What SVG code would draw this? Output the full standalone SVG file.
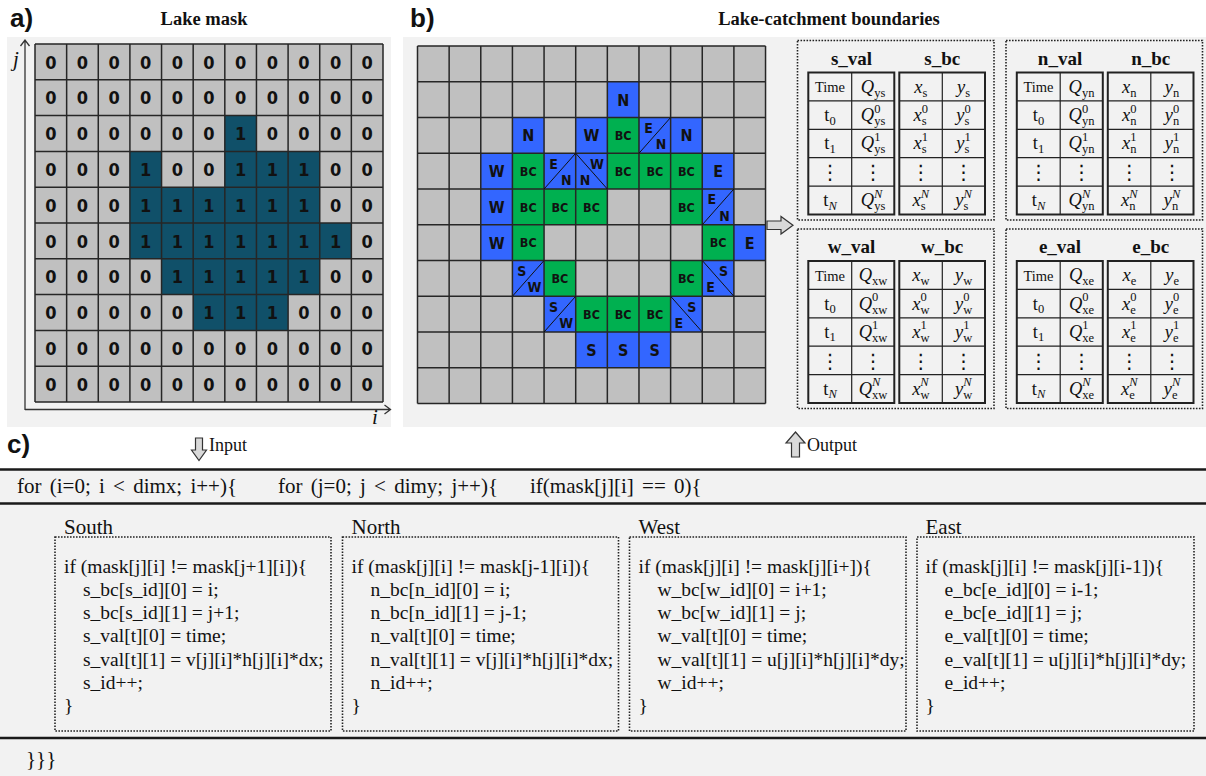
<svg xmlns="http://www.w3.org/2000/svg" width="1206" height="776" viewBox="0 0 1206 776">
<style>
.bg{fill:#f2f2f2}
.gl{fill:none;stroke:#262626;stroke-width:1.5}
.ax{fill:none;stroke:#333;stroke-width:1.3}
.d{font-family:"DejaVu Sans Condensed","DejaVu Sans",sans-serif;font-weight:bold;font-size:18px;text-anchor:middle;fill:#111}
.lb{font-family:"DejaVu Sans Condensed","DejaVu Sans",sans-serif;font-weight:bold;font-size:16px;text-anchor:middle;fill:#111}
.bc{font-family:"DejaVu Sans Condensed","DejaVu Sans",sans-serif;font-weight:bold;font-size:12.5px;text-anchor:middle;fill:#111}
.sl{font-family:"DejaVu Sans Condensed","DejaVu Sans",sans-serif;font-weight:bold;font-size:14px;text-anchor:middle;fill:#111}
.pl{font-family:"Liberation Sans",Arial,sans-serif;font-weight:bold;font-size:26px;fill:#111}
.ttl{font-family:"Liberation Serif","Times New Roman",serif;font-weight:bold;font-size:18.5px;text-anchor:middle;fill:#111}
.hd{font-family:"Liberation Serif","Times New Roman",serif;font-weight:bold;font-size:19px;text-anchor:middle;fill:#111}
.tb{fill:none;stroke:#222;stroke-width:2}
.tl{fill:none;stroke:#222;stroke-width:1.2}
.dot{fill:none;stroke:#222;stroke-width:1.6;stroke-dasharray:1.6 1.4}
.m{font-family:"Liberation Serif","Times New Roman",serif;font-size:18.5px;text-anchor:middle;fill:#111}
.tm{font-family:"Liberation Serif","Times New Roman",serif;font-size:14.5px;text-anchor:middle;fill:#111}
.it{font-style:italic}
.sb{font-size:12.5px;font-style:normal}
.si{font-size:12.5px;font-style:italic}
.vd{font-family:"DejaVu Sans",sans-serif;font-size:20px;text-anchor:middle;fill:#111}
.code{font-family:"Liberation Serif","Times New Roman",serif;font-size:19.5px;fill:#111}
.fl{font-family:"Liberation Serif","Times New Roman",serif;font-size:21px;word-spacing:3px;fill:#111}
.lab{font-family:"Liberation Serif","Times New Roman",serif;font-size:21px;fill:#111}
.ar{fill:#d9d9d9;stroke:#333;stroke-width:1.2}
.ij{font-family:"Liberation Serif","Times New Roman",serif;font-style:italic;font-size:21px;fill:#111}
.gray{fill:#c0c0c0}
.lake{fill:#105069}
.blue{fill:#3366ff}
.green{fill:#00b050}
.dg{fill:none;stroke:#111;stroke-width:1}
</style>
<rect x="0" y="0" width="1206" height="776" fill="#ffffff"/>

<!-- Panel a -->
<g id="panel-a">
<rect class="bg" x="7" y="37" width="384" height="390"/>
<text class="pl" x="10" y="27">a)</text>
<text class="ttl" x="204" y="25">Lake mask</text>
<rect class="gray" x="35" y="44" width="348" height="358"/>
<g class="lake">
<rect x="224.82" y="115.6" width="31.64" height="35.8"/>
<rect x="129.91" y="151.4" width="31.64" height="35.8"/>
<rect x="224.82" y="151.4" width="94.91" height="35.8"/>
<rect x="129.91" y="187.2" width="189.82" height="35.8"/>
<rect x="129.91" y="223" width="221.45" height="35.8"/>
<rect x="161.55" y="258.8" width="158.18" height="35.8"/>
<rect x="193.18" y="294.6" width="94.91" height="35.8"/>
</g>
<path class="gl" d="M35 44V402M66.64 44V402M98.27 44V402M129.91 44V402M161.55 44V402M193.18 44V402M224.82 44V402M256.45 44V402M288.09 44V402M319.73 44V402M351.36 44V402M383 44V402M35 44H383M35 79.8H383M35 115.6H383M35 151.4H383M35 187.2H383M35 223H383M35 258.8H383M35 294.6H383M35 330.4H383M35 366.2H383M35 402H383"/>
<text class="d" x="50.82 82.45 114.09 145.73 177.36 209 240.64 272.27 303.91 335.55 367.18" y="68.5">00000000000</text>
<text class="d" x="50.82 82.45 114.09 145.73 177.36 209 240.64 272.27 303.91 335.55 367.18" y="104.3">00000000000</text>
<text class="d" x="50.82 82.45 114.09 145.73 177.36 209 240.64 272.27 303.91 335.55 367.18" y="140.1">00000010000</text>
<text class="d" x="50.82 82.45 114.09 145.73 177.36 209 240.64 272.27 303.91 335.55 367.18" y="175.9">00010011100</text>
<text class="d" x="50.82 82.45 114.09 145.73 177.36 209 240.64 272.27 303.91 335.55 367.18" y="211.7">00011111100</text>
<text class="d" x="50.82 82.45 114.09 145.73 177.36 209 240.64 272.27 303.91 335.55 367.18" y="247.5">00011111110</text>
<text class="d" x="50.82 82.45 114.09 145.73 177.36 209 240.64 272.27 303.91 335.55 367.18" y="283.3">00001111100</text>
<text class="d" x="50.82 82.45 114.09 145.73 177.36 209 240.64 272.27 303.91 335.55 367.18" y="319.1">00000111000</text>
<text class="d" x="50.82 82.45 114.09 145.73 177.36 209 240.64 272.27 303.91 335.55 367.18" y="354.9">00000000000</text>
<text class="d" x="50.82 82.45 114.09 145.73 177.36 209 240.64 272.27 303.91 335.55 367.18" y="390.7">00000000000</text>
<path class="ax" d="M25 410V40M20.5 46L25 40L29.5 46M25 409.5H390M384.5 405L390.5 409.5L384.5 414"/>
<text class="ij" x="13" y="66">j</text>
<text class="ij" x="372" y="424">i</text>
</g>

<!-- Panel b -->
<g id="panel-b">
<rect class="bg" x="403" y="37" width="803" height="390"/>
<text class="pl" x="410" y="27">b)</text>
<text class="ttl" x="829" y="25">Lake-catchment boundaries</text>
<rect class="gray" x="417.5" y="46" width="348" height="357.5"/>
<g class="blue">
<rect x="607.34" y="81.75" width="31.64" height="35.75"/>
<rect x="512.42" y="117.5" width="31.64" height="35.75"/>
<rect x="575.7" y="117.5" width="31.64" height="35.75"/>
<rect x="638.98" y="117.5" width="31.64" height="35.75"/>
<rect x="670.62" y="117.5" width="31.64" height="35.75"/>
<rect x="480.78" y="153.25" width="31.64" height="35.75"/>
<rect x="544.06" y="153.25" width="63.28" height="35.75"/>
<rect x="702.26" y="153.25" width="31.64" height="35.75"/>
<rect x="480.78" y="189" width="31.64" height="35.75"/>
<rect x="702.26" y="189" width="31.64" height="35.75"/>
<rect x="480.78" y="224.75" width="31.64" height="35.75"/>
<rect x="733.9" y="224.75" width="31.64" height="35.75"/>
<rect x="512.42" y="260.5" width="31.64" height="35.75"/>
<rect x="702.26" y="260.5" width="31.64" height="35.75"/>
<rect x="544.06" y="296.25" width="31.64" height="35.75"/>
<rect x="670.62" y="296.25" width="31.64" height="35.75"/>
<rect x="575.7" y="332" width="94.92" height="35.75"/>
</g>
<g class="green">
<rect x="607.34" y="117.5" width="31.64" height="35.75"/>
<rect x="512.42" y="153.25" width="31.64" height="35.75"/>
<rect x="607.34" y="153.25" width="94.92" height="35.75"/>
<rect x="512.42" y="189" width="94.92" height="35.75"/>
<rect x="670.62" y="189" width="31.64" height="35.75"/>
<rect x="512.42" y="224.75" width="31.64" height="35.75"/>
<rect x="702.26" y="224.75" width="31.64" height="35.75"/>
<rect x="544.06" y="260.5" width="31.64" height="35.75"/>
<rect x="670.62" y="260.5" width="31.64" height="35.75"/>
<rect x="575.7" y="296.25" width="94.92" height="35.75"/>
</g>
<path class="gl" d="M417.5 46V403.5M449.14 46V403.5M480.78 46V403.5M512.42 46V403.5M544.06 46V403.5M575.7 46V403.5M607.34 46V403.5M638.98 46V403.5M670.62 46V403.5M702.26 46V403.5M733.9 46V403.5M765.54 46V403.5M417.5 46H765.54M417.5 81.75H765.54M417.5 117.5H765.54M417.5 153.25H765.54M417.5 189H765.54M417.5 224.75H765.54M417.5 260.5H765.54M417.5 296.25H765.54M417.5 332H765.54M417.5 367.75H765.54M417.5 403.5H765.54"/>
<path class="dg" d="M638.98 153.25L670.62 117.5M544.06 189L575.7 153.25M575.7 153.25L607.34 189M702.26 224.75L733.9 189M512.42 296.25L544.06 260.5M702.26 260.5L733.9 296.25M544.06 332L575.7 296.25M670.62 296.25L702.26 332"/>
<text class="lb" x="623.16" y="105.5">N</text>
<text class="lb" x="528.24" y="141.3">N</text>
<text class="lb" x="591.52" y="141.3">W</text>
<text class="lb" x="686.44" y="141.3">N</text>
<text class="lb" x="496.6" y="177">W</text>
<text class="lb" x="718.08" y="177">E</text>
<text class="lb" x="496.6" y="212.8">W</text>
<text class="lb" x="496.6" y="248.5">W</text>
<text class="lb" x="749.72" y="248.5">E</text>
<text class="lb" x="591.52" y="355.8">S</text>
<text class="lb" x="623.16" y="355.8">S</text>
<text class="lb" x="654.8" y="355.8">S</text>
<text class="bc" x="623.16" y="140">BC</text>
<text class="bc" x="528.24" y="175.7">BC</text>
<text class="bc" x="623.16" y="175.7">BC</text>
<text class="bc" x="654.8" y="175.7">BC</text>
<text class="bc" x="686.44" y="175.7">BC</text>
<text class="bc" x="528.24" y="211.5">BC</text>
<text class="bc" x="559.88" y="211.5">BC</text>
<text class="bc" x="591.52" y="211.5">BC</text>
<text class="bc" x="686.44" y="211.5">BC</text>
<text class="bc" x="528.24" y="247.2">BC</text>
<text class="bc" x="718.08" y="247.2">BC</text>
<text class="bc" x="559.88" y="283">BC</text>
<text class="bc" x="686.44" y="283">BC</text>
<text class="bc" x="591.52" y="318.7">BC</text>
<text class="bc" x="623.16" y="318.7">BC</text>
<text class="bc" x="654.8" y="318.7">BC</text>
<text class="sl" x="648.5" y="132.8">E</text>
<text class="sl" x="661.1" y="149.4">N</text>
<text class="sl" x="553.6" y="168.6">E</text>
<text class="sl" x="566.2" y="185.2">N</text>
<text class="sl" x="596.9" y="168.6">W</text>
<text class="sl" x="584.9" y="184.5">N</text>
<text class="sl" x="711.8" y="204.3">E</text>
<text class="sl" x="724.4" y="220.9">N</text>
<text class="sl" x="521.9" y="275.8">S</text>
<text class="sl" x="534.5" y="292.4">W</text>
<text class="sl" x="723.5" y="275.8">S</text>
<text class="sl" x="710.5" y="291.7">E</text>
<text class="sl" x="553.6" y="311.6">S</text>
<text class="sl" x="566.2" y="328.2">W</text>
<text class="sl" x="691.8" y="311.6">S</text>
<text class="sl" x="678.8" y="327.5">E</text>
</g>

<!-- Tables -->
<g id="table-s">
<rect class="dot" x="797.5" y="40.5" width="196.5" height="179.5"/>
<text class="hd" x="851.5" y="64.5">s_val</text>
<text class="hd" x="942.2" y="64.5">s_bc</text>
<rect class="tb" x="808.3" y="72.5" width="86" height="142"/>
<rect class="tb" x="899.3" y="72.5" width="85.7" height="142"/>
<path class="tl" d="M851.7 72.5V214.5M942.3 72.5V214.5M808.3 100.9H894.3M808.3 129.3H894.3M808.3 157.7H894.3M808.3 186.1H894.3M899.3 100.9H985M899.3 129.3H985M899.3 157.7H985M899.3 186.1H985"/>
<text class="tm" x="830" y="92">Time</text>
<text class="m" x="873" y="92.5"><tspan class="it">Q</tspan><tspan class="sb" dy="4">ys</tspan></text>
<text class="m" x="920.8" y="92.5"><tspan class="it">x</tspan><tspan class="sb" dy="4">s</tspan></text>
<text class="m" x="963.6" y="92.5"><tspan class="it">y</tspan><tspan class="sb" dy="4">s</tspan></text>
<text class="m" x="830" y="121">t<tspan class="sb" dy="3.5">0</tspan></text>
<text class="m" x="873" y="121"><tspan class="it">Q</tspan><tspan class="sb" dy="-8.5">0</tspan><tspan class="sb" dx="-6.25" dy="12.5">ys</tspan></text>
<text class="m" x="920.8" y="121"><tspan class="it">x</tspan><tspan class="sb" dy="-8.5">0</tspan><tspan class="sb" dx="-6.25" dy="12.5">s</tspan></text>
<text class="m" x="963.6" y="121"><tspan class="it">y</tspan><tspan class="sb" dy="-8.5">0</tspan><tspan class="sb" dx="-6.25" dy="12.5">s</tspan></text>
<text class="m" x="830" y="149.4">t<tspan class="sb" dy="3.5">1</tspan></text>
<text class="m" x="873" y="149.4"><tspan class="it">Q</tspan><tspan class="sb" dy="-8.5">1</tspan><tspan class="sb" dx="-6.25" dy="12.5">ys</tspan></text>
<text class="m" x="920.8" y="149.4"><tspan class="it">x</tspan><tspan class="sb" dy="-8.5">1</tspan><tspan class="sb" dx="-6.25" dy="12.5">s</tspan></text>
<text class="m" x="963.6" y="149.4"><tspan class="it">y</tspan><tspan class="sb" dy="-8.5">1</tspan><tspan class="sb" dx="-6.25" dy="12.5">s</tspan></text>
<text class="vd" x="830" y="179">⋮</text>
<text class="vd" x="873" y="179">⋮</text>
<text class="vd" x="920.8" y="179">⋮</text>
<text class="vd" x="963.6" y="179">⋮</text>
<text class="m" x="830" y="206.2">t<tspan class="si" dy="3.5">N</tspan></text>
<text class="m" x="873" y="206.2"><tspan class="it">Q</tspan><tspan class="si" dy="-8.5">N</tspan><tspan class="sb" dx="-8.3" dy="12.5">ys</tspan></text>
<text class="m" x="920.8" y="206.2"><tspan class="it">x</tspan><tspan class="si" dy="-8.5">N</tspan><tspan class="sb" dx="-8.3" dy="12.5">s</tspan></text>
<text class="m" x="963.6" y="206.2"><tspan class="it">y</tspan><tspan class="si" dy="-8.5">N</tspan><tspan class="sb" dx="-8.3" dy="12.5">s</tspan></text>
</g>

<g id="table-n">
<rect class="dot" x="1006" y="40.5" width="196.5" height="179.5"/>
<text class="hd" x="1060" y="64.5">n_val</text>
<text class="hd" x="1150.7" y="64.5">n_bc</text>
<rect class="tb" x="1016.8" y="72.5" width="86" height="142"/>
<rect class="tb" x="1107.8" y="72.5" width="85.7" height="142"/>
<path class="tl" d="M1060.2 72.5V214.5M1150.8 72.5V214.5M1016.8 100.9H1102.8M1016.8 129.3H1102.8M1016.8 157.7H1102.8M1016.8 186.1H1102.8M1107.8 100.9H1193.5M1107.8 129.3H1193.5M1107.8 157.7H1193.5M1107.8 186.1H1193.5"/>
<text class="tm" x="1038.5" y="92">Time</text>
<text class="m" x="1081.5" y="92.5"><tspan class="it">Q</tspan><tspan class="sb" dy="4">yn</tspan></text>
<text class="m" x="1129.3" y="92.5"><tspan class="it">x</tspan><tspan class="sb" dy="4">n</tspan></text>
<text class="m" x="1172.1" y="92.5"><tspan class="it">y</tspan><tspan class="sb" dy="4">n</tspan></text>
<text class="m" x="1038.5" y="121">t<tspan class="sb" dy="3.5">0</tspan></text>
<text class="m" x="1081.5" y="121"><tspan class="it">Q</tspan><tspan class="sb" dy="-8.5">0</tspan><tspan class="sb" dx="-6.25" dy="12.5">yn</tspan></text>
<text class="m" x="1129.3" y="121"><tspan class="it">x</tspan><tspan class="sb" dy="-8.5">0</tspan><tspan class="sb" dx="-6.25" dy="12.5">n</tspan></text>
<text class="m" x="1172.1" y="121"><tspan class="it">y</tspan><tspan class="sb" dy="-8.5">0</tspan><tspan class="sb" dx="-6.25" dy="12.5">n</tspan></text>
<text class="m" x="1038.5" y="149.4">t<tspan class="sb" dy="3.5">1</tspan></text>
<text class="m" x="1081.5" y="149.4"><tspan class="it">Q</tspan><tspan class="sb" dy="-8.5">1</tspan><tspan class="sb" dx="-6.25" dy="12.5">yn</tspan></text>
<text class="m" x="1129.3" y="149.4"><tspan class="it">x</tspan><tspan class="sb" dy="-8.5">1</tspan><tspan class="sb" dx="-6.25" dy="12.5">n</tspan></text>
<text class="m" x="1172.1" y="149.4"><tspan class="it">y</tspan><tspan class="sb" dy="-8.5">1</tspan><tspan class="sb" dx="-6.25" dy="12.5">n</tspan></text>
<text class="vd" x="1038.5" y="179">⋮</text>
<text class="vd" x="1081.5" y="179">⋮</text>
<text class="vd" x="1129.3" y="179">⋮</text>
<text class="vd" x="1172.1" y="179">⋮</text>
<text class="m" x="1038.5" y="206.2">t<tspan class="si" dy="3.5">N</tspan></text>
<text class="m" x="1081.5" y="206.2"><tspan class="it">Q</tspan><tspan class="si" dy="-8.5">N</tspan><tspan class="sb" dx="-8.3" dy="12.5">yn</tspan></text>
<text class="m" x="1129.3" y="206.2"><tspan class="it">x</tspan><tspan class="si" dy="-8.5">N</tspan><tspan class="sb" dx="-8.3" dy="12.5">n</tspan></text>
<text class="m" x="1172.1" y="206.2"><tspan class="it">y</tspan><tspan class="si" dy="-8.5">N</tspan><tspan class="sb" dx="-8.3" dy="12.5">n</tspan></text>
</g>

<g id="table-w">
<rect class="dot" x="797.5" y="229" width="196.5" height="179.5"/>
<text class="hd" x="851.5" y="253">w_val</text>
<text class="hd" x="942.2" y="253">w_bc</text>
<rect class="tb" x="808.3" y="261" width="86" height="142"/>
<rect class="tb" x="899.3" y="261" width="85.7" height="142"/>
<path class="tl" d="M851.7 261V403M942.3 261V403M808.3 289.4H894.3M808.3 317.8H894.3M808.3 346.2H894.3M808.3 374.6H894.3M899.3 289.4H985M899.3 317.8H985M899.3 346.2H985M899.3 374.6H985"/>
<text class="tm" x="830" y="280.5">Time</text>
<text class="m" x="873" y="281"><tspan class="it">Q</tspan><tspan class="sb" dy="4">xw</tspan></text>
<text class="m" x="920.8" y="281"><tspan class="it">x</tspan><tspan class="sb" dy="4">w</tspan></text>
<text class="m" x="963.6" y="281"><tspan class="it">y</tspan><tspan class="sb" dy="4">w</tspan></text>
<text class="m" x="830" y="309.5">t<tspan class="sb" dy="3.5">0</tspan></text>
<text class="m" x="873" y="309.5"><tspan class="it">Q</tspan><tspan class="sb" dy="-8.5">0</tspan><tspan class="sb" dx="-6.25" dy="12.5">xw</tspan></text>
<text class="m" x="920.8" y="309.5"><tspan class="it">x</tspan><tspan class="sb" dy="-8.5">0</tspan><tspan class="sb" dx="-6.25" dy="12.5">w</tspan></text>
<text class="m" x="963.6" y="309.5"><tspan class="it">y</tspan><tspan class="sb" dy="-8.5">0</tspan><tspan class="sb" dx="-6.25" dy="12.5">w</tspan></text>
<text class="m" x="830" y="337.9">t<tspan class="sb" dy="3.5">1</tspan></text>
<text class="m" x="873" y="337.9"><tspan class="it">Q</tspan><tspan class="sb" dy="-8.5">1</tspan><tspan class="sb" dx="-6.25" dy="12.5">xw</tspan></text>
<text class="m" x="920.8" y="337.9"><tspan class="it">x</tspan><tspan class="sb" dy="-8.5">1</tspan><tspan class="sb" dx="-6.25" dy="12.5">w</tspan></text>
<text class="m" x="963.6" y="337.9"><tspan class="it">y</tspan><tspan class="sb" dy="-8.5">1</tspan><tspan class="sb" dx="-6.25" dy="12.5">w</tspan></text>
<text class="vd" x="830" y="367.5">⋮</text>
<text class="vd" x="873" y="367.5">⋮</text>
<text class="vd" x="920.8" y="367.5">⋮</text>
<text class="vd" x="963.6" y="367.5">⋮</text>
<text class="m" x="830" y="394.7">t<tspan class="si" dy="3.5">N</tspan></text>
<text class="m" x="873" y="394.7"><tspan class="it">Q</tspan><tspan class="si" dy="-8.5">N</tspan><tspan class="sb" dx="-8.3" dy="12.5">xw</tspan></text>
<text class="m" x="920.8" y="394.7"><tspan class="it">x</tspan><tspan class="si" dy="-8.5">N</tspan><tspan class="sb" dx="-8.3" dy="12.5">w</tspan></text>
<text class="m" x="963.6" y="394.7"><tspan class="it">y</tspan><tspan class="si" dy="-8.5">N</tspan><tspan class="sb" dx="-8.3" dy="12.5">w</tspan></text>
</g>

<g id="table-e">
<rect class="dot" x="1006" y="229" width="196.5" height="179.5"/>
<text class="hd" x="1060" y="253">e_val</text>
<text class="hd" x="1150.7" y="253">e_bc</text>
<rect class="tb" x="1016.8" y="261" width="86" height="142"/>
<rect class="tb" x="1107.8" y="261" width="85.7" height="142"/>
<path class="tl" d="M1060.2 261V403M1150.8 261V403M1016.8 289.4H1102.8M1016.8 317.8H1102.8M1016.8 346.2H1102.8M1016.8 374.6H1102.8M1107.8 289.4H1193.5M1107.8 317.8H1193.5M1107.8 346.2H1193.5M1107.8 374.6H1193.5"/>
<text class="tm" x="1038.5" y="280.5">Time</text>
<text class="m" x="1081.5" y="281"><tspan class="it">Q</tspan><tspan class="sb" dy="4">xe</tspan></text>
<text class="m" x="1129.3" y="281"><tspan class="it">x</tspan><tspan class="sb" dy="4">e</tspan></text>
<text class="m" x="1172.1" y="281"><tspan class="it">y</tspan><tspan class="sb" dy="4">e</tspan></text>
<text class="m" x="1038.5" y="309.5">t<tspan class="sb" dy="3.5">0</tspan></text>
<text class="m" x="1081.5" y="309.5"><tspan class="it">Q</tspan><tspan class="sb" dy="-8.5">0</tspan><tspan class="sb" dx="-6.25" dy="12.5">xe</tspan></text>
<text class="m" x="1129.3" y="309.5"><tspan class="it">x</tspan><tspan class="sb" dy="-8.5">0</tspan><tspan class="sb" dx="-6.25" dy="12.5">e</tspan></text>
<text class="m" x="1172.1" y="309.5"><tspan class="it">y</tspan><tspan class="sb" dy="-8.5">0</tspan><tspan class="sb" dx="-6.25" dy="12.5">e</tspan></text>
<text class="m" x="1038.5" y="337.9">t<tspan class="sb" dy="3.5">1</tspan></text>
<text class="m" x="1081.5" y="337.9"><tspan class="it">Q</tspan><tspan class="sb" dy="-8.5">1</tspan><tspan class="sb" dx="-6.25" dy="12.5">xe</tspan></text>
<text class="m" x="1129.3" y="337.9"><tspan class="it">x</tspan><tspan class="sb" dy="-8.5">1</tspan><tspan class="sb" dx="-6.25" dy="12.5">e</tspan></text>
<text class="m" x="1172.1" y="337.9"><tspan class="it">y</tspan><tspan class="sb" dy="-8.5">1</tspan><tspan class="sb" dx="-6.25" dy="12.5">e</tspan></text>
<text class="vd" x="1038.5" y="367.5">⋮</text>
<text class="vd" x="1081.5" y="367.5">⋮</text>
<text class="vd" x="1129.3" y="367.5">⋮</text>
<text class="vd" x="1172.1" y="367.5">⋮</text>
<text class="m" x="1038.5" y="394.7">t<tspan class="si" dy="3.5">N</tspan></text>
<text class="m" x="1081.5" y="394.7"><tspan class="it">Q</tspan><tspan class="si" dy="-8.5">N</tspan><tspan class="sb" dx="-8.3" dy="12.5">xe</tspan></text>
<text class="m" x="1129.3" y="394.7"><tspan class="it">x</tspan><tspan class="si" dy="-8.5">N</tspan><tspan class="sb" dx="-8.3" dy="12.5">e</tspan></text>
<text class="m" x="1172.1" y="394.7"><tspan class="it">y</tspan><tspan class="si" dy="-8.5">N</tspan><tspan class="sb" dx="-8.3" dy="12.5">e</tspan></text>
</g>

<!-- Panel c -->
<g id="panel-c">
<rect class="bg" x="0" y="469" width="1206" height="307"/>
<text class="pl" x="7" y="453">c)</text>
<path d="M0 469.5H1206M0 503.5H1206M0 738H1206" stroke="#1a1a1a" stroke-width="2.5" fill="none"/>
<text class="fl" x="17" y="493">for (i=0; i &lt; dimx; i++){</text>
<text class="fl" x="278" y="493">for (j=0; j &lt; dimy; j++){</text>
<text class="fl" x="530" y="493">if(mask[j][i] == 0){</text>
<text class="lab" x="26" y="766">}}}</text>
</g>

<g id="code-south">
<text class="lab" x="64" y="533.5">South</text>
<rect class="dot" x="55" y="537" width="276" height="194"/>
<text class="code"><tspan x="64" y="572.5">if (mask[j][i] != mask[j+1][i]){</tspan><tspan x="83" y="595.8">s_bc[s_id][0] = i;</tspan><tspan x="83" y="619.1">s_bc[s_id][1] = j+1;</tspan><tspan x="83" y="642.4">s_val[t][0] = time;</tspan><tspan x="83" y="665.7">s_val[t][1] = v[j][i]*h[j][i]*dx;</tspan><tspan x="83" y="689">s_id++;</tspan><tspan x="64" y="712.3">}</tspan></text>
</g>
<g id="code-north">
<text class="lab" x="351.5" y="533.5">North</text>
<rect class="dot" x="342.5" y="537" width="276" height="194"/>
<text class="code"><tspan x="351.5" y="572.5">if (mask[j][i] != mask[j-1][i]){</tspan><tspan x="370.5" y="595.8">n_bc[n_id][0] = i;</tspan><tspan x="370.5" y="619.1">n_bc[n_id][1] = j-1;</tspan><tspan x="370.5" y="642.4">n_val[t][0] = time;</tspan><tspan x="370.5" y="665.7">n_val[t][1] = v[j][i]*h[j][i]*dx;</tspan><tspan x="370.5" y="689">n_id++;</tspan><tspan x="351.5" y="712.3">}</tspan></text>
</g>
<g id="code-west">
<text class="lab" x="638.5" y="533.5">West</text>
<rect class="dot" x="629.5" y="537" width="276.5" height="194"/>
<text class="code"><tspan x="638.5" y="572.5">if (mask[j][i] != mask[j][i+]){</tspan><tspan x="657.5" y="595.8">w_bc[w_id][0] = i+1;</tspan><tspan x="657.5" y="619.1">w_bc[w_id][1] = j;</tspan><tspan x="657.5" y="642.4">w_val[t][0] = time;</tspan><tspan x="657.5" y="665.7">w_val[t][1] = u[j][i]*h[j][i]*dy;</tspan><tspan x="657.5" y="689">w_id++;</tspan><tspan x="638.5" y="712.3">}</tspan></text>
</g>
<g id="code-east">
<text class="lab" x="925.5" y="533.5">East</text>
<rect class="dot" x="917" y="537" width="277" height="194"/>
<text class="code"><tspan x="925.5" y="572.5">if (mask[j][i] != mask[j][i-1]){</tspan><tspan x="944.5" y="595.8">e_bc[e_id][0] = i-1;</tspan><tspan x="944.5" y="619.1">e_bc[e_id][1] = j;</tspan><tspan x="944.5" y="642.4">e_val[t][0] = time;</tspan><tspan x="944.5" y="665.7">e_val[t][1] = u[j][i]*h[j][i]*dy;</tspan><tspan x="944.5" y="689">e_id++;</tspan><tspan x="925.5" y="712.3">}</tspan></text>
</g>

<!-- Connectors -->
<g id="connectors">
<polygon class="ar" points="767,221 781,221 781,216.5 793,225.25 781,234 781,229.5 767,229.5"/>
<polygon class="ar" points="195.5,438 202.5,438 202.5,450 206.5,450 199,460.5 191.5,450 195.5,450"/>
<text class="lab" x="209" y="451" style="font-size:18px">Input</text>
<polygon class="ar" points="795.5,432 805,443 799.5,443 799.5,457 791.5,457 791.5,443 786,443"/>
<text class="lab" x="807" y="451" style="font-size:18px">Output</text>
</g>
</svg>
